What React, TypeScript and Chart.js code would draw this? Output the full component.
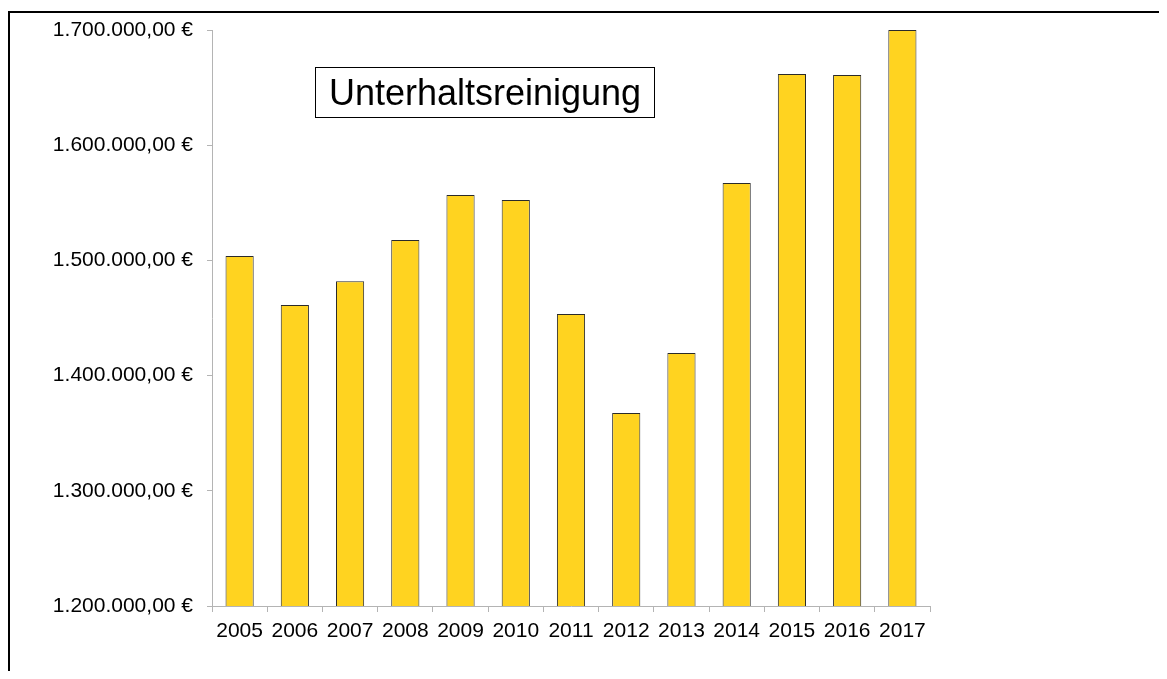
import React, { useEffect, useRef } from "react";
import { Chart, registerables } from "chart.js";

Chart.register(...registerables);

const years = ["2005", "2006", "2007", "2008", "2009", "2010", "2011", "2012", "2013", "2014", "2015", "2016", "2017"];
const costs = [1503800, 1461300, 1482000, 1517700, 1556800, 1552400, 1453500, 1367500, 1419600, 1567200, 1661800, 1660900, 1700000];
const chartTitle = "Unterhaltsreinigung";
const yMin = 1200000;
const yMax = 1700000;
const yStep = 100000;

function formatEuro(v: number): string {
  const fixed = Math.abs(v).toFixed(2);
  const [intPart, dec] = fixed.split(".");
  const withDots = intPart.replace(/\B(?=(\d{3})+(?!\d))/g, ".");
  return (v < 0 ? "-" : "") + withDots + "," + dec + " €";
}

const W = 1151;
const H = 663;
const FONT = "'Liberation Sans', Arial, sans-serif";

const framePlugin = {
  id: "frameAndTitle",
  beforeDraw(chart: any) {
    const ctx = chart.ctx;
    ctx.save();
    ctx.fillStyle = "#ffffff";
    ctx.fillRect(0, 0, chart.width, chart.height);
    ctx.strokeStyle = "#000000";
    ctx.lineWidth = 2;
    ctx.beginPath();
    ctx.moveTo(1, chart.height);
    ctx.lineTo(1, 4);
    ctx.lineTo(chart.width, 4);
    ctx.stroke();
    ctx.restore();
  },
  afterDraw(chart: any) {
    const ctx = chart.ctx;
    const area = chart.chartArea;
    const bx = area.left + 103;
    const by = area.top + 37;
    const bw = 339;
    const bh = 50;
    ctx.save();
    ctx.fillStyle = "#ffffff";
    ctx.fillRect(bx, by, bw, bh);
    ctx.strokeStyle = "#000000";
    ctx.lineWidth = 1;
    ctx.strokeRect(bx + 0.5, by + 0.5, bw, bh);
    ctx.font = `36px ${FONT}`;
    ctx.fillStyle = "#000000";
    ctx.textAlign = "center";
    ctx.textBaseline = "alphabetic";
    ctx.fillText(chartTitle, bx + bw / 2 + 0.5, by + bh / 2 + 13);
    ctx.restore();
  },
};

export default function App() {
  const ref = useRef<HTMLCanvasElement | null>(null);
  useEffect(() => {
    if (!ref.current) return;
    const chart = new Chart(ref.current, {
      type: "bar",
      data: {
        labels: years,
        datasets: [
          {
            data: costs,
            backgroundColor: "#FFD320",
            borderColor: "#2a2a2a",
            borderWidth: 1,
            barPercentage: 0.51,
            categoryPercentage: 1,
          },
        ],
      },
      options: {
        responsive: false,
        animation: false,
        devicePixelRatio: 1,
        layout: { padding: { top: 22, right: 229, left: 0, bottom: 0 } },
        plugins: {
          legend: { display: false },
          title: { display: false },
          tooltip: { enabled: false },
        },
        scales: {
          x: {
            grid: {
              display: true,
              drawOnChartArea: false,
              drawTicks: true,
              tickLength: 6,
              color: "#b4b4b4",
              offset: true,
            },
            border: { display: true, color: "#b4b4b4" },
            ticks: {
              color: "#000000",
              font: { family: FONT, size: 21 },
              padding: 7,
              maxRotation: 0,
              autoSkip: false,
            },
            afterFit(scale: any) {
              scale.height = 65;
              scale.paddingLeft = 0;
              scale.paddingRight = 0;
            },
          },
          y: {
            min: yMin,
            max: yMax,
            grid: {
              display: true,
              drawOnChartArea: false,
              drawTicks: true,
              tickLength: 5,
              color: "#b4b4b4",
            },
            border: { display: true, color: "#b4b4b4" },
            ticks: {
              stepSize: yStep,
              color: "#000000",
              font: { family: FONT, size: 21 },
              padding: 14,
              callback: (v: any) => formatEuro(Number(v)),
            },
            afterFit(scale: any) {
              scale.width = 204;
              scale.paddingTop = 0;
              scale.paddingBottom = 0;
            },
          },
        },
      },
      plugins: [framePlugin],
    });
    return () => chart.destroy();
  }, []);
  return (
    <div style={{ width: W, height: H }}>
      <canvas ref={ref} width={W} height={H} style={{ display: "block", width: W, height: H }} />
    </div>
  );
}
